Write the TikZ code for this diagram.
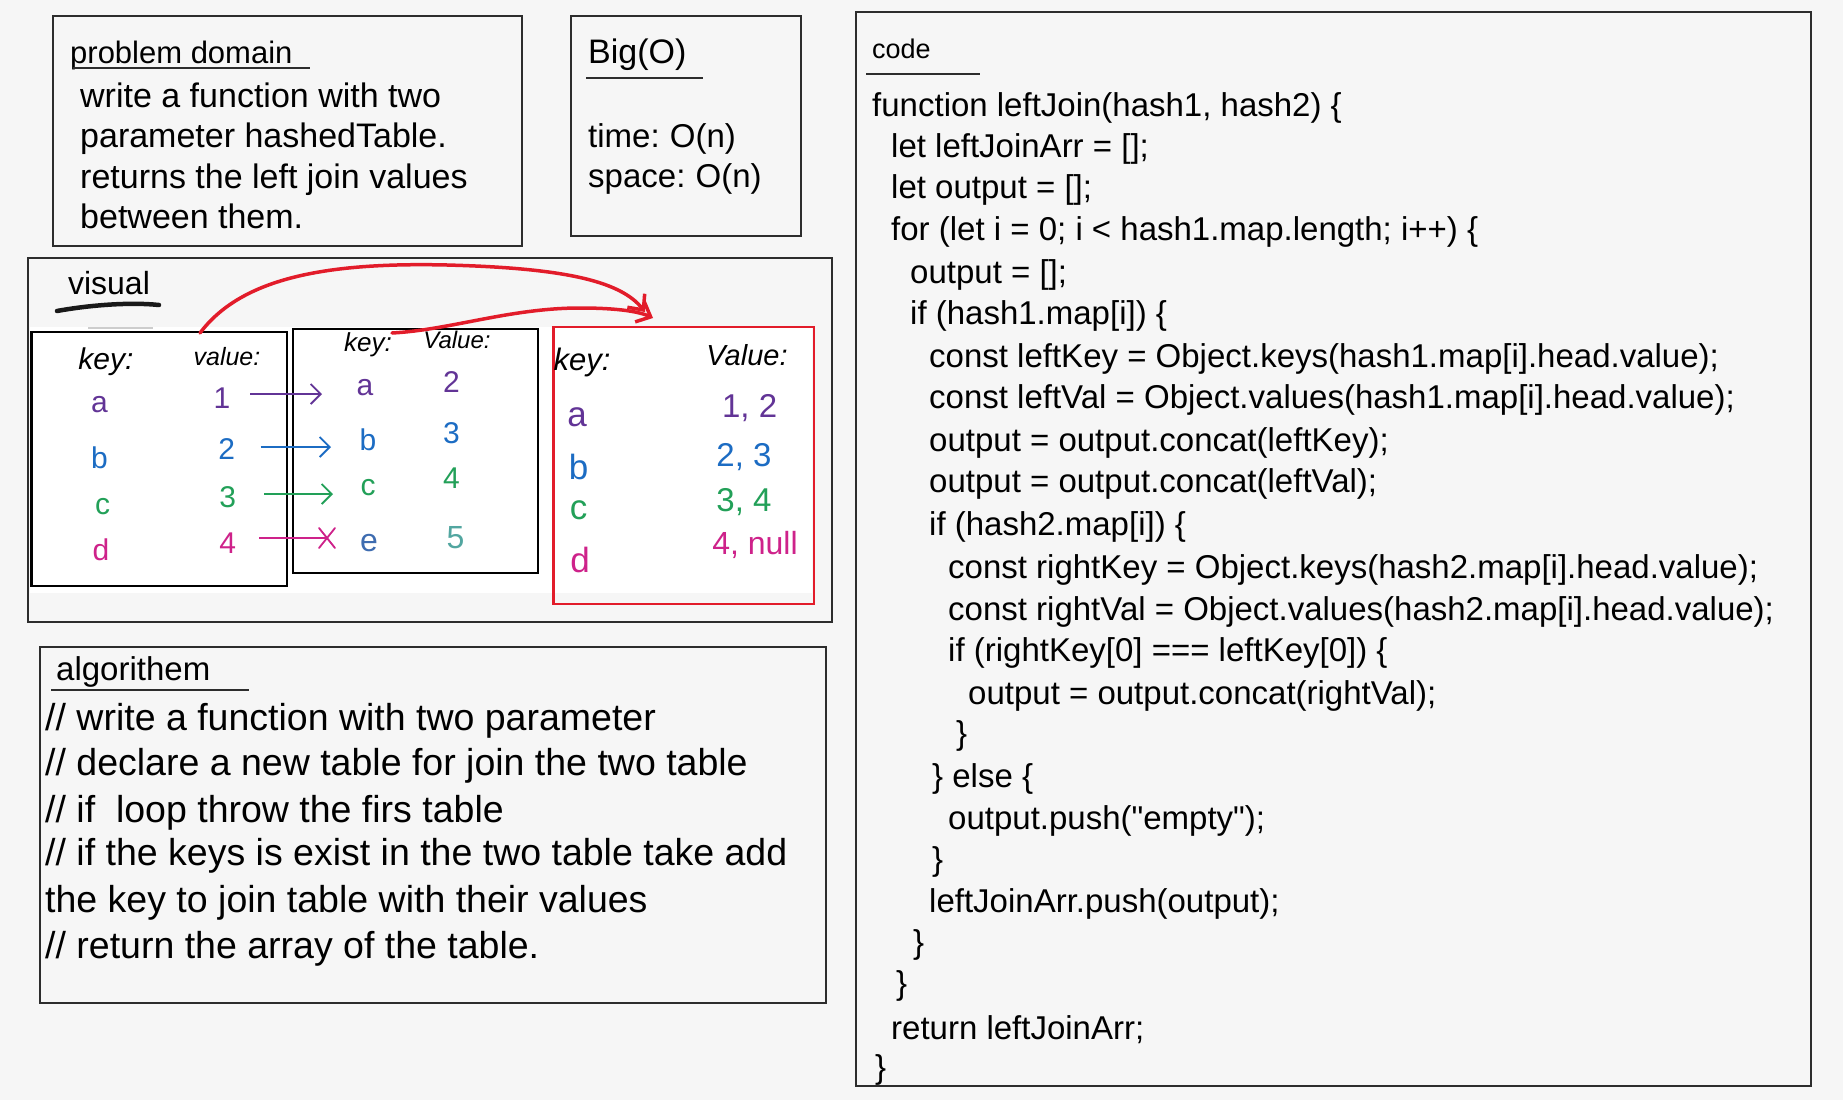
\documentclass[tikz,border=0pt]{standalone}
\usepackage{fontspec}
\setmainfont{Liberation Sans}
\newfontfamily\plainquote{Liberation Sans}[Ligatures=TeXOff]
\usetikzlibrary{arrows.meta}
\definecolor{bg}{RGB}{246,246,246}
\definecolor{boxline}{RGB}{45,45,45}
\definecolor{redline}{RGB}{226,28,42}
\definecolor{cpurple}{RGB}{98,52,150}
\definecolor{cblue}{RGB}{28,108,195}
\definecolor{cgreen}{RGB}{34,160,88}
\definecolor{cmag}{RGB}{206,34,138}
\definecolor{csteel}{RGB}{62,108,176}
\definecolor{cteal}{RGB}{82,166,160}
\definecolor{faint}{RGB}{205,205,205}
\begin{document}
\begin{tikzpicture}[x=1pt,y=-1pt,
  panel/.style={draw=boxline,line width=2.2pt},
  tbl/.style={draw=black,line width=2.5pt,fill=none,inner sep=0pt},
  uline/.style={draw=boxline,line width=2.8pt},
  title/.style={anchor=base west,inner sep=0pt,font=\fontsize{#1}{40}\selectfont},
  body/.style={anchor=base west,inner sep=0pt,font=\fontsize{34}{40}\selectfont},
  codeln/.style={anchor=base west,inner sep=0pt,font=\plainquote\fontsize{33}{40}\selectfont},
  algo/.style={anchor=base west,inner sep=0pt,font=\fontsize{37.5}{44}\selectfont},
  cell/.style={inner sep=0pt,font=\fontsize{#1}{36}\selectfont},
  head/.style={inner sep=0pt,font=\fontsize{#1}{30}\selectfont\itshape},
  thinarr/.style={line width=1.8pt,-{Straight Barb[length=10pt,width=20pt,line width=1.8pt]}},
  redarr/.style={draw=redline,line width=3.5pt,line cap=round,-{Straight Barb[length=12pt,width=22pt,line width=3.5pt]}}
]
\fill[bg] (0,0) rectangle (1843,1100);
\useasboundingbox (0,0) rectangle (1843,1100);

% ---------- problem domain ----------
\draw[panel] (53,16) rectangle (522,246);
\node[title=31] (pdt) at (70,63) {problem domain};
\draw[uline] (73,68) -- (310,68);
\node[body] (pd1) at (80,107) {write a function with two};
\node[body] (pd2) at (80,147) {parameter hashedTable.};
\node[body] (pd3) at (80,188) {returns the left join values};
\node[body] (pd4) at (80,228) {between them.};

% ---------- Big(O) ----------
\draw[panel] (571,16) rectangle (801,236);
\node[title=34] (bot) at (588,63) {Big(O)};
\draw[uline] (586,78) -- (703,78);
\node[title=33] (bo1) at (588,147) {time:\hspace{-2pt} O(n)};
\node[title=33] (bo2) at (588,187) {space:\hspace{-2pt} O(n)};

% ---------- visual ----------
\draw[panel] (28,258) rectangle (832,622);
\fill[white] (30,327) rectangle (812,593);
\node[cell=32] (vist) at (109,283) {visual};
\draw[line width=4.5pt,line cap=round,draw=black!90] (57,311) .. controls (90,305) and (130,302) .. (159,305);
\draw[faint,line width=2pt] (88,328) -- (153,328);

\node[tbl,minimum width=255.5pt,minimum height=254pt] (t1) at (159.25,459) {};
\node[tbl,minimum width=245pt,minimum height=244pt] (t2) at (415.5,451) {};
\node[draw=redline,line width=2.2pt,inner sep=0pt,minimum width=260.5pt,minimum height=277pt] (t3) at (683.75,465.5) {};

% table 1
\node[head=30] (h1k) at (106,362) {key:};
\node[head=25] (h1v) at (227,357) {value:};
\node[cell=30,text=cpurple] (k1a) at (99.5,405) {a};
\node[cell=30,text=cpurple] (v1a) at (222,398) {1};
\node[cell=30,text=cblue] (k1b) at (99.5,458) {b};
\node[cell=30,text=cblue] (v1b) at (226.6,449) {2};
\node[cell=30,text=cgreen] (k1c) at (102.6,507) {c};
\node[cell=30,text=cgreen] (v1c) at (227.6,497) {3};
\node[cell=30,text=cmag] (k1d) at (101,550) {d};
\node[cell=30,text=cmag] (v1d) at (227.6,543) {4};

% table 2
\node[head=26] (h2k) at (368,345) {key:};
\node[head=24] (h2v) at (457,340) {Value:};
\node[cell=30,text=cpurple] (k2a) at (365,388) {a};
\node[cell=30,text=cpurple] (v2a) at (451.5,382) {2};
\node[cell=30,text=cblue] (k2b) at (368,440) {b};
\node[cell=30,text=cblue] (v2b) at (451.5,433) {3};
\node[cell=30,text=cgreen] (k2c) at (368,488) {c};
\node[cell=30,text=cgreen] (v2c) at (451.5,478) {4};
\node[cell=32,text=csteel] (k2e) at (369,543) {e};
\node[cell=32,text=cteal] (v2e) at (455.6,538) {5};

% result table
\node[head=31] (h3k) at (582,362) {key:};
\node[head=29] (h3v) at (747,355) {Value:};
\node[cell=35,text=cpurple] (k3a) at (577,417) {a};
\node[cell=33,text=cpurple] (v3a) at (749.6,408) {1, 2};
\node[cell=35,text=cblue] (k3b) at (578.6,467) {b};
\node[cell=33,text=cblue] (v3b) at (744,457) {2, 3};
\node[cell=35,text=cgreen] (k3c) at (578.6,510) {c};
\node[cell=33,text=cgreen] (v3c) at (744,502) {3, 4};
\node[cell=35,text=cmag] (k3d) at (580,560) {d};
\node[cell=32,text=cmag] (v3d) at (755,545) {4, null};

% small arrows
\coordinate (pa1) at (250,394); \coordinate (pa2) at (322,394);
\coordinate (pb1) at (260.6,447); \coordinate (pb2) at (331,447);
\coordinate (pc1) at (264,494); \coordinate (pc2) at (333,494);
\coordinate (pd1s) at (259,538); \coordinate (pd2s) at (327,538);
\draw[thinarr,cpurple] (pa1) -- (pa2);
\draw[thinarr,cblue] (pb1) -- (pb2);
\draw[thinarr,cgreen] (pc1) -- (pc2);
\draw[line width=1.8pt,cmag] (pd1s) -- (pd2s);
\draw[line width=1.8pt,cmag,line cap=round] ([shift={(-8,-10)}]pd2s) -- ([shift={(8,10)}]pd2s);
\draw[line width=1.8pt,cmag,line cap=round] ([shift={(-8,10)}]pd2s) -- ([shift={(8,-10)}]pd2s);

% red arrows
\coordinate (r1s) at (200,333);
\coordinate (r1e) at (645,312);
\coordinate (r2s) at (392,333);
\coordinate (r2e) at (653,318);
\draw[redarr] (r1s) .. controls (240,280) and (320,262) .. (447,265) .. controls (560,268) and (620,280) .. (r1e);
\draw[redarr] (r2s) .. controls (450,330) and (510,308) .. (580,308) .. controls (620,308) and (640,312) .. (r2e);

% ---------- algorithem ----------
\draw[panel] (40,647) rectangle (826,1003);
\node[title=33] (alt) at (56,680) {algorithem};
\draw[uline] (51,690) -- (249,690);
\node[algo] (al1) at (45,730) {// write a function with two parameter};
\node[algo] (al2) at (45,775) {// declare a new table for join the two table};
\node[algo] (al3) at (45,822) {// if\ \ loop throw the firs table};
\node[algo] (al4) at (45,865) {// if the keys is exist in the two table take add};
\node[algo] (al5) at (45,912) {the key to join table with their values};
\node[algo] (al6) at (45,958) {// return the array of the table.};

% ---------- code ----------
\draw[panel] (856,12) rectangle (1811,1086);
\node[title=27] (cdt) at (872,58) {code};
\draw[uline] (866,74) -- (980,74);
\node[codeln] (c1) at (872,116) {function leftJoin(hash1, hash2) \{};
\node[codeln] (c2) at (891,157) {let leftJoinArr = [];};
\node[codeln] (c3) at (891,198) {let output = [];};
\node[codeln] (c4) at (891,240) {for (let i = 0; i < hash1.map.length; i++) \{};
\node[codeln] (c5) at (910,283) {output = [];};
\node[codeln] (c6) at (910,324) {if (hash1.map[i]) \{};
\node[codeln] (c7) at (929,367) {const leftKey = Object.keys(hash1.map[i].head.value);};
\node[codeln] (c8) at (929,408) {const leftVal = Object.values(hash1.map[i].head.value);};
\node[codeln] (c9) at (929,451) {output = output.concat(leftKey);};
\node[codeln] (c10) at (929,492) {output = output.concat(leftVal);};
\node[codeln] (c11) at (929,535) {if (hash2.map[i]) \{};
\node[codeln] (c12) at (948,578) {const rightKey = Object.keys(hash2.map[i].head.value);};
\node[codeln] (c13) at (948,620) {const rightVal = Object.values(hash2.map[i].head.value);};
\node[codeln] (c14) at (948,661) {if (rightKey[0] === leftKey[0]) \{};
\node[codeln] (c15) at (968,704) {output = output.concat(rightVal);};
\node[codeln] (c16) at (956,744) {\}};
\node[codeln] (c17) at (932,787) {\} else \{};
\node[codeln] (c18) at (948,829) {output.push("empty");};
\node[codeln] (c19) at (932,870) {\}};
\node[codeln] (c20) at (929,912) {leftJoinArr.push(output);};
\node[codeln] (c21) at (913,953) {\}};
\node[codeln] (c22) at (896,994) {\}};
\node[codeln] (c23) at (891,1039) {return leftJoinArr;};
\node[codeln] (c24) at (875,1078) {\}};
\end{tikzpicture}
\end{document}
